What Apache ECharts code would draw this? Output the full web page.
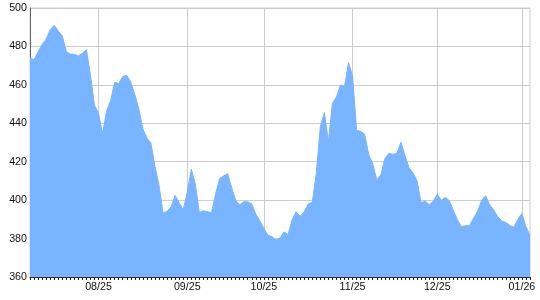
<!DOCTYPE html>
<html>
<head>
<meta charset="utf-8">
<script src="https://cdn.jsdelivr.net/npm/echarts@6/dist/echarts.min.js"></script>
<style>html,body{margin:0;padding:0;background:#fff}#c{width:540px;height:300px}</style>
</head>
<body>
<div id="c"></div>
<script>
// Month tick labels and number of points falling in each month
const monthLabels = ['07/25', '08/25', '09/25', '10/25', '11/25', '12/25', '01/26'];
const monthCounts = [17, 22, 19, 22, 21, 21, 3];

// Series values
const values = [
  474, 473.1, 477.2, 481, 483.8, 488.7, 491, 488.1, 485.5, 477.4,
  476, 475.9, 475.1, 476.4, 478.3, 465, 449.3, 445.2, 434.6, 446.5,
  451.7, 461.4, 460.7, 464.4, 465, 461.4, 455, 447.4, 437, 432.4,
  429.6, 417.4, 407.7, 393.3, 394.2, 396.5, 402.5, 398.5, 395, 404.1,
  416.1, 408.4, 393.5, 394.5, 394, 393.5, 402.9, 411.2, 412.6, 413.8,
  406.7, 400, 397.5, 399.1, 399.1, 398.1, 392.7, 389.3, 385.2, 381.8,
  381, 379.3, 380.3, 383.5, 382.1, 389.8, 394, 391.5, 394, 398,
  398.9, 413.8, 438.3, 445.5, 430.7, 450.4, 453.7, 459.9, 459.2, 471.5,
  464.6, 436.4, 435.8, 434.3, 423.7, 419, 410.5, 413.1, 421.6, 424.4,
  423.8, 424.4, 430.2, 423.2, 416.9, 414.2, 409.9, 398.6, 399.6, 397.6,
  399.4, 403.1, 399.9, 401.5, 399.7, 394.6, 389.8, 386.2, 386.7, 386.7,
  390.6, 394.2, 399.9, 402.3, 397.5, 394.9, 391.4, 389.2, 388.4, 386.8,
  385.9, 390.1, 393, 386.2, 381.7
];

// Y axis ticks
const yMin = 360, yMax = 500, yStep = 20;

// Build categories: "label|k" where k is the position within the month
const categories = [];
monthLabels.forEach((m, mi) => {
  for (let k = 0; k < monthCounts[mi]; k++) categories.push(m + '|' + k);
});

const isMonthStart = (idx, v) => idx > 0 && String(v).endsWith('|0');

const font = '"Liberation Sans", Arial, sans-serif';
const chart = echarts.init(document.getElementById('c'), null, {renderer: 'canvas'});
chart.setOption({
  animation: false,
  grid: {left: 30, right: 10, top: 8, bottom: 23, show: true, borderColor: '#cccccc', borderWidth: 1, containLabel: false},
  xAxis: {
    type: 'category',
    data: categories,
    boundaryGap: false,
    axisLine: {show: true, lineStyle: {color: '#333', width: 1}},
    axisTick: {show: true, interval: 0, length: 3, lineStyle: {color: '#222', width: 1}},
    axisLabel: {
      interval: isMonthStart,
      formatter: v => v.split('|')[0],
      color: '#111', fontSize: 10.7, fontFamily: font, margin: 5
    },
    splitLine: {show: true, interval: isMonthStart, lineStyle: {color: '#cccccc', width: 1}}
  },
  yAxis: {
    type: 'value',
    min: yMin, max: yMax, interval: yStep,
    axisLine: {show: true, lineStyle: {color: '#666', width: 1}},
    axisTick: {show: false},
    axisLabel: {color: '#111', fontSize: 10.7, fontFamily: font, margin: 3},
    splitLine: {show: true, lineStyle: {color: '#cccccc', width: 1}}
  },
  series: [{
    type: 'line',
    data: values,
    showSymbol: false,
    symbol: 'none',
    lineStyle: {color: '#78b4ff', width: 1},
    areaStyle: {color: '#78b4ff', opacity: 1},
    z: 1
  }]
});
</script>
</body>
</html>
